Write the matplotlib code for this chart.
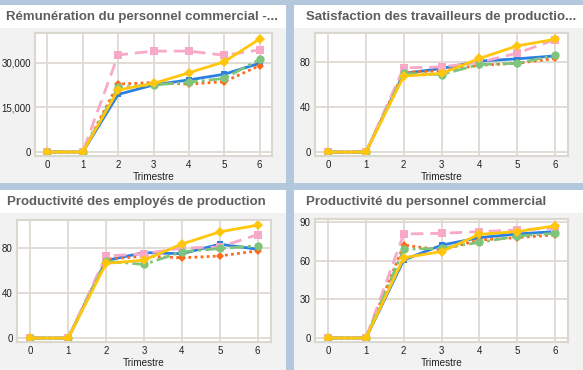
import matplotlib
matplotlib.use("Agg")
import matplotlib.pyplot as plt
from matplotlib.patches import Rectangle
from matplotlib.ticker import FuncFormatter

plt.rcParams['font.family'] = ['Liberation Sans', 'DejaVu Sans']

quarters = [0, 1, 2, 3, 4, 5, 6]
xlabel = "Trimestre"

titles = [
    "Rémunération du personnel commercial -...",
    "Satisfaction des travailleurs de productio...",
    "Productivité des employés de production",
    "Productivité du personnel commercial",
]

# series order: blue, orange, pink, green, yellow
remuneration_blue = [0, 0, 19400, 22600, 24300, 26200, 29900]
remuneration_orange = [0, 0, 22900, 23400, 22900, 23700, 29100]
remuneration_pink = [0, 0, 32700, 34000, 34000, 32600, 34400]
remuneration_green = [0, 0, 21800, 22600, 23500, 24800, 31200]
remuneration_yellow = [0, 0, 20900, 23100, 26700, 30400, 38100]

satisfaction_blue = [0, 0, 70, 74.4, 81, 83, 85.6]
satisfaction_orange = [0, 0, 71, 72.3, 77.3, 79, 83.3]
satisfaction_pink = [0, 0, 75, 75.8, 80, 88, 100]
satisfaction_green = [0, 0, 70, 69, 78, 79, 86]
satisfaction_yellow = [0, 0, 67.6, 70, 83.3, 94.5, 100.4]

prod_emp_blue = [0, 0, 69, 76, 75, 83.5, 79]
prod_emp_orange = [0, 0, 70, 72.9, 71.4, 73, 77.6]
prod_emp_pink = [0, 0, 73, 75, 80, 81, 92]
prod_emp_green = [0, 0, 68.4, 65.5, 76.7, 79.7, 82]
prod_emp_yellow = [0, 0, 66.4, 69.3, 83.6, 94.5, 100.4]

prod_com_blue = [0, 0, 60.5, 72, 77.8, 80.7, 82.5]
prod_com_orange = [0, 0, 72, 68.3, 76, 77.8, 80]
prod_com_pink = [0, 0, 80.7, 81.2, 82.5, 83.8, 85.1]
prod_com_green = [0, 0, 68.8, 69.6, 74.2, 79, 81.2]
prod_com_yellow = [0, 0, 62.3, 67, 80.4, 82.5, 87]

yticks = [
    [0, 15000, 30000],
    [0, 40, 80],
    [0, 40, 80],
    [0, 30, 60, 90],
]
ylims = [(-1350, 40100), (-3.5, 106), (-3.5, 105), (-3.1, 92.3)]

panel_data = [
    [remuneration_blue, remuneration_orange, remuneration_pink, remuneration_green, remuneration_yellow],
    [satisfaction_blue, satisfaction_orange, satisfaction_pink, satisfaction_green, satisfaction_yellow],
    [prod_emp_blue, prod_emp_orange, prod_emp_pink, prod_emp_green, prod_emp_yellow],
    [prod_com_blue, prod_com_orange, prod_com_pink, prod_com_green, prod_com_yellow],
]

styles = [
    dict(color='#2a7fe3', ls='-', marker='s', ms=5, lw=2.0),
    dict(color='#ff6a1a', ls=(0, (1, 1.2)), marker='D', ms=4.5, lw=2.0),
    dict(color='#f9a9c8', ls=(0, (4.5, 2.5)), marker='s', ms=5.5, lw=2.0),
    dict(color='#7fc47c', ls=(0, (5, 1.5, 1, 1.5)), marker='o', ms=6, lw=2.0),
    dict(color='#ffc60c', ls='-', marker='D', ms=5, lw=2.0),
]

W, H = 583, 370
fig = plt.figure(figsize=(W / 100, H / 100), dpi=100)
fig.patch.set_facecolor('#b3c8dc')

# panels: (x0, x1, y0, y1, title_bottom) in pixels from top-left
panels = [
    (0, 286, 5, 183, 28),
    (294, 583, 5, 183, 28),
    (0, 286, 190, 370, 213),
    (294, 583, 190, 370, 213),
]
axes_px = [
    (35, 272, 33, 156),
    (315, 568, 33, 156),
    (17, 271, 220, 342),
    (315, 568, 219, 342),
]
title_x = [6, 306, 7, 306]


def fx(x):
    return x / W


def fy(y):
    return 1 - y / H


for i in range(4):
    x0, x1, y0, y1, tb = panels[i]
    fig.add_artist(Rectangle((fx(x0), fy(y1)), fx(x1 - x0), (y1 - y0) / H,
                             transform=fig.transFigure, facecolor='#f2f2f2',
                             edgecolor='none', zorder=0))
    fig.add_artist(Rectangle((fx(x0), fy(tb)), fx(x1 - x0), (tb - y0) / H,
                             transform=fig.transFigure, facecolor='white',
                             edgecolor='none', zorder=0))
    fig.text(fx(title_x[i]), fy((y0 + tb) / 2 + 0.5), titles[i], ha='left', va='center',
             fontsize=9.5, fontweight='bold', color='#5e5e5e')

    ax0, ax1, ay0, ay1 = axes_px[i]
    ax = fig.add_axes([fx(ax0), fy(ay1), fx(ax1 - ax0), (ay1 - ay0) / H])
    ax.set_facecolor('white')
    for data, st in zip(panel_data[i], styles):
        ax.plot(quarters, data, color=st['color'], ls=st['ls'], lw=st['lw'],
                marker=st['marker'], ms=st['ms'], markeredgewidth=0)
    ax.set_xlim(-0.35, 6.35)
    ax.set_ylim(*ylims[i])
    ax.set_xticks(quarters)
    ax.set_yticks(yticks[i])
    if i == 0:
        ax.yaxis.set_major_formatter(FuncFormatter(lambda v, p: f"{int(v):,}"))
    ax.grid(True, color='#dedad2', lw=1.3)
    ax.set_axisbelow(True)
    for s in ax.spines.values():
        s.set_color('#dad7cf')
        s.set_linewidth(1.5)
    ax.tick_params(length=0, labelsize=7, colors='#222222', pad=3)
    ax.set_xlabel(xlabel, fontsize=7.2, color='#222222', labelpad=1)

fig.savefig('out.png', dpi=100, facecolor=fig.get_facecolor())
